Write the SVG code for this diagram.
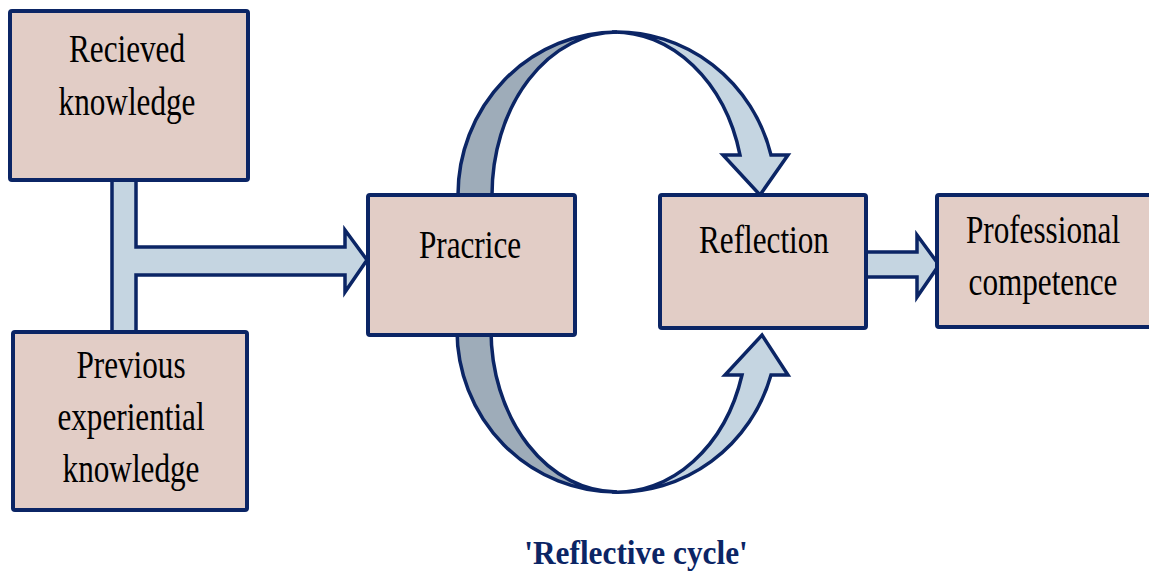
<svg xmlns="http://www.w3.org/2000/svg" width="1149" height="579" viewBox="0 0 1149 579">
<style>
.box{fill:#e2cdc6;stroke:#0b2565;stroke-width:4;}
.light{fill:#c5d5e1;stroke:#0b2565;stroke-width:3.5;stroke-linejoin:miter;}
.dark{fill:#9eacb9;stroke:#0b2565;stroke-width:3.5;}
.t{font-family:"Liberation Serif","Times New Roman",serif;font-size:39px;fill:#000;text-anchor:middle;}
.cap{font-family:"Liberation Serif","Times New Roman",serif;font-size:33px;font-weight:bold;fill:#0b2565;text-anchor:middle;}
</style>
<rect width="1149" height="579" fill="#fff"/>
<g id="connectors">
  <path class="light" d="M112,178 L136,178 L136,247 L345,247 L345,230 L367,260 L345,292 L345,275 L136,275 L136,334 L112,334 Z"/>
  <path class="light" d="M864,252 L917,252 L917,235 L939,265 L917,297 L917,277 L864,277 Z"/>
  <path class="dark" d="M458,200 L458,195 A159 163 0 0 1 617,32 A125 163 0 0 0 492,195 L492,200 Z"/>
  <path class="light" d="M612,32 A159 163 0 0 1 771,155 L788,155 L760,195 L723,155 L740,155 A130 163 0 0 0 612,32 Z"/>
  <path class="dark" d="M457,330 A159 162 0 0 0 617,492 A126 162 0 0 1 491,330 Z"/>
  <path class="light" d="M612,492 A159 162 0 0 0 771,375 L788,375 L762,335 L725,375 L742,375 A130 162 0 0 1 612,492 Z"/>
</g>
<g id="received">
  <rect class="box" x="10" y="11" width="238" height="169" rx="2"/>
  <text class="t" transform="translate(127,62) scale(0.8,1)">Recieved</text>
  <text class="t" transform="translate(127,115) scale(0.8,1)">knowledge</text>
</g>
<g id="previous">
  <rect class="box" x="13" y="332" width="234" height="178" rx="2"/>
  <text class="t" transform="translate(131,378) scale(0.8,1)">Previous</text>
  <text class="t" transform="translate(131,430) scale(0.8,1)">experiential</text>
  <text class="t" transform="translate(131,482) scale(0.8,1)">knowledge</text>
</g>
<g id="practice">
  <rect class="box" x="368" y="195" width="207" height="140" rx="2"/>
  <text class="t" transform="translate(470,258) scale(0.8,1)">Pracrice</text>
</g>
<g id="reflection">
  <rect class="box" x="660" y="195" width="206" height="133" rx="2"/>
  <text class="t" transform="translate(764,253) scale(0.8,1)">Reflection</text>
</g>
<g id="competence">
  <rect class="box" x="937" y="195" width="214" height="132" rx="2"/>
  <text class="t" transform="translate(1043,243) scale(0.8,1)">Professional</text>
  <text class="t" transform="translate(1043,295) scale(0.8,1)">competence</text>
</g>
<text class="cap" transform="translate(636,564) scale(0.95,1)">'Reflective cycle'</text>
</svg>
